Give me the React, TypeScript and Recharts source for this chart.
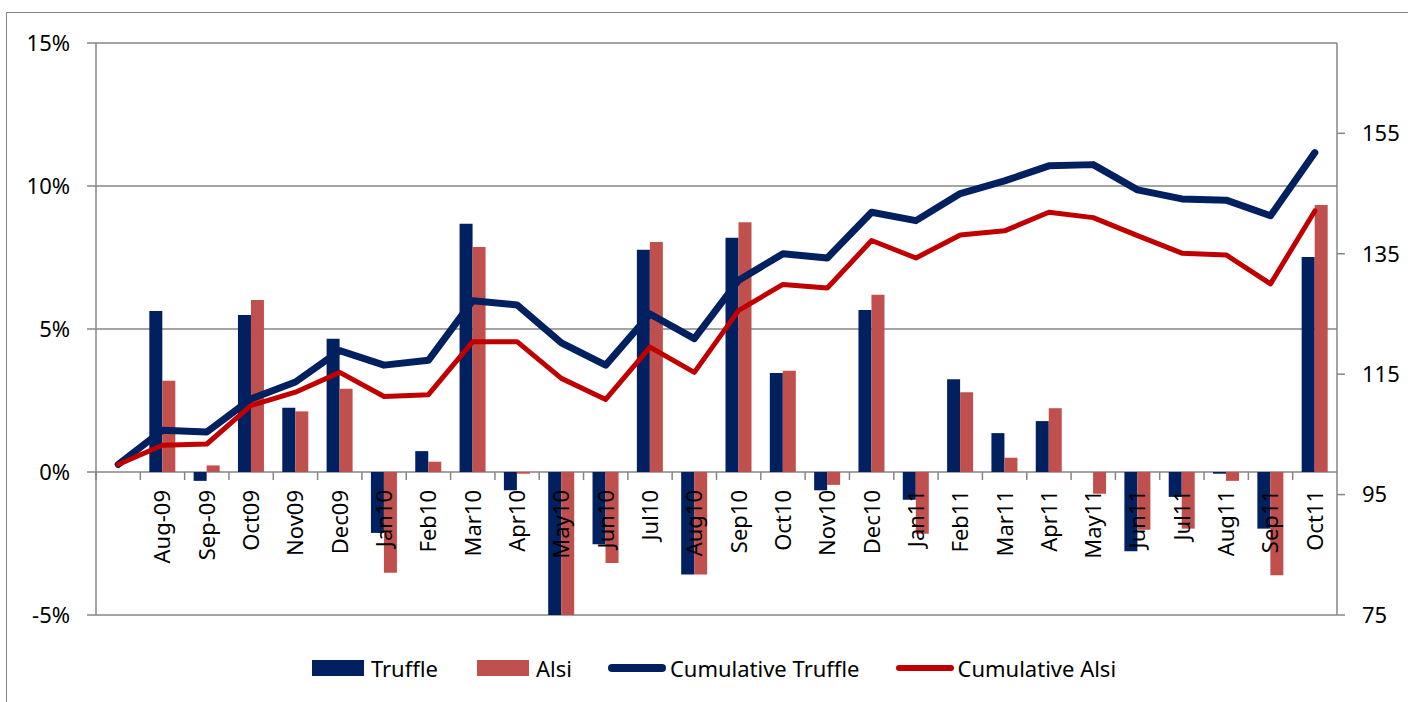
import React from "react";
import { ComposedChart, Bar, Line, XAxis, YAxis, CartesianGrid, Legend } from "recharts";

const months = [
  "", "Aug-09", "Sep-09", "Oct09", "Nov09", "Dec09", "Jan10", "Feb10", "Mar10", "Apr10",
  "May10", "Jun10", "Jul10", "Aug10", "Sep10", "Oct10", "Nov10", "Dec10", "Jan11", "Feb11",
  "Mar11", "Apr11", "May11", "Jun11", "Jul11", "Aug11", "Sep11", "Oct11",
];

// monthly returns, %
const truffle = [
  null, 5.63, -0.31, 5.49, 2.25, 4.66, -2.13, 0.73, 8.68, -0.64,
  -5.0, -2.53, 7.77, -3.58, 8.19, 3.46, -0.64, 5.66, -0.97, 3.24,
  1.36, 1.78, 0, -2.77, -0.87, -0.06, -1.98, 7.52,
];
const alsi = [
  null, 3.19, 0.23, 6.01, 2.12, 2.91, -3.52, 0.36, 7.87, -0.06,
  -5.0, -3.18, 8.04, -3.58, 8.73, 3.54, -0.45, 6.2, -2.16, 2.79,
  0.5, 2.23, -0.76, -2.02, -1.98, -0.31, -3.61, 9.34,
];

// cumulative index (right axis)
const cumTruffle = [
  100, 105.7, 105.4, 110.9, 113.7, 118.9, 116.5, 117.3, 127.2, 126.5,
  120.2, 116.5, 125.0, 120.9, 130.6, 135.0, 134.3, 141.9, 140.5, 145.0,
  147.1, 149.6, 149.8, 145.6, 144.1, 143.9, 141.3, 151.8,
];
const cumAlsi = [
  100, 103.2, 103.4, 109.8, 112.0, 115.3, 111.3, 111.6, 120.4, 120.4,
  114.3, 110.8, 119.5, 115.3, 125.6, 129.9, 129.3, 137.2, 134.3, 138.1,
  138.8, 141.9, 141.0, 138.0, 135.1, 134.8, 130.0, 142.1,
];

const leftTicks = [-5, 0, 5, 10, 15];
const rightTicks = [75, 95, 115, 135, 155];

const data = months.map((m, i) => ({
  month: m,
  truffle: truffle[i],
  alsi: alsi[i],
  cumTruffle: cumTruffle[i],
  cumAlsi: cumAlsi[i],
}));

const W = 1408;
const H = 702;
const TOP = 43;
const BOTTOM = 87;
const X_H = 30;
const LEFT_W = 96;
const RIGHT_W = 71;
const PLOT_W = W - LEFT_W - RIGHT_W;
const PLOT_H = H - TOP - BOTTOM;
const BAND = PLOT_W / months.length;
const ZERO_Y = TOP + (PLOT_H * 15) / 20;

const NAVY = "#002060";
const BAR_RED = "#C0504D";
const LINE_RED = "#C00000";
const GRID = "#868686";
const FONT = "Noto Sans";

const CategoryTick = (props: any) => {
  const { x, payload } = props;
  const left = x - BAND / 2;
  return (
    <g>
      <line x1={left} x2={left} y1={ZERO_Y} y2={ZERO_Y + 8} stroke={GRID} strokeWidth={1.5} />
      {payload.value ? (
        <text
          transform={`translate(${x},${ZERO_Y + 18}) rotate(-90)`}
          textAnchor="end"
          dy="0.36em"
          fontSize={22}
          fontFamily={FONT}
          fill="#000"
        >
          {payload.value}
        </text>
      ) : null}
    </g>
  );
};

const legendItems = [
  { label: "Truffle", kind: "bar", color: NAVY },
  { label: "Alsi", kind: "bar", color: BAR_RED },
  { label: "Cumulative Truffle", kind: "line", color: NAVY, w: 8 },
  { label: "Cumulative Alsi", kind: "line", color: LINE_RED, w: 6 },
];

const LegendContent = () => (
  <div style={{ display: "flex", justifyContent: "center", alignItems: "center", gap: 36, height: 30 }}>
    {legendItems.map((it) => (
      <div key={it.label} style={{ display: "flex", alignItems: "center", gap: 4 }}>
        <svg width={58} height={18}>
          {it.kind === "bar" ? (
            <rect x={3} y={1} width={52} height={16} fill={it.color} />
          ) : (
            <line x1={it.w! / 2} x2={58 - it.w! / 2} y1={9} y2={9} stroke={it.color} strokeWidth={it.w} strokeLinecap="round" />
          )}
        </svg>
        <span style={{ fontFamily: FONT, fontSize: 22, color: "#000" }}>{it.label}</span>
      </div>
    ))}
  </div>
);

export default function App() {
  return (
    <div style={{ position: "absolute", left: 0, top: 0, width: W, height: H, overflow: "hidden", background: "#fff" }}>
      <div
        style={{
          position: "absolute",
          left: 6,
          top: 12,
          width: 1500,
          height: 900,
          border: `1.5px solid ${GRID}`,
        }}
      />
      <div style={{ position: "absolute", left: 0, top: 0 }}>
        <ComposedChart
          width={W}
          height={H}
          data={data}
          margin={{ top: TOP, right: 0, bottom: BOTTOM - X_H, left: 0 }}
          barGap={0}
          barSize={13}
        >
          <CartesianGrid yAxisId="left" vertical={false} stroke={GRID} strokeWidth={1.5} horizontalValues={leftTicks} />
          <YAxis
            yAxisId="left"
            width={LEFT_W}
            domain={[-5, 15]}
            ticks={leftTicks}
            tickFormatter={(v) => `${v}%`}
            tickSize={9}
            tickMargin={17}
            stroke={GRID}
            strokeWidth={1.5}
            tick={{ fill: "#000", fontSize: 22, fontFamily: FONT }}
          />
          <YAxis
            yAxisId="right"
            orientation="right"
            width={RIGHT_W}
            domain={[75, 170]}
            ticks={rightTicks}
            tickSize={8}
            tickMargin={17}
            stroke={GRID}
            strokeWidth={1.5}
            tick={{ fill: "#000", fontSize: 22, fontFamily: FONT, textAnchor: "start" }}
          />
          <Bar yAxisId="left" dataKey="truffle" name="Truffle" fill={NAVY} isAnimationActive={false} />
          <Bar yAxisId="left" dataKey="alsi" name="Alsi" fill={BAR_RED} isAnimationActive={false} />
          <Line
            yAxisId="right"
            type="linear"
            dataKey="cumTruffle"
            name="Cumulative Truffle"
            stroke={NAVY}
            strokeWidth={7}
            strokeLinecap="round"
            strokeLinejoin="round"
            dot={false}
            activeDot={false}
            isAnimationActive={false}
          />
          <Line
            yAxisId="right"
            type="linear"
            dataKey="cumAlsi"
            name="Cumulative Alsi"
            stroke={LINE_RED}
            strokeWidth={5}
            strokeLinecap="round"
            strokeLinejoin="round"
            dot={false}
            activeDot={false}
            isAnimationActive={false}
          />
          <XAxis
            dataKey="month"
            height={X_H}
            interval={0}
            axisLine={false}
            tickLine={false}
            tick={<CategoryTick />}
          />
          <Legend
            verticalAlign="middle"
            align="center"
            layout="horizontal"
            content={<LegendContent />}
            wrapperStyle={{ left: LEFT_W - 4, top: 653, width: PLOT_W, height: 30 }}
          />
        </ComposedChart>
      </div>
    </div>
  );
}
